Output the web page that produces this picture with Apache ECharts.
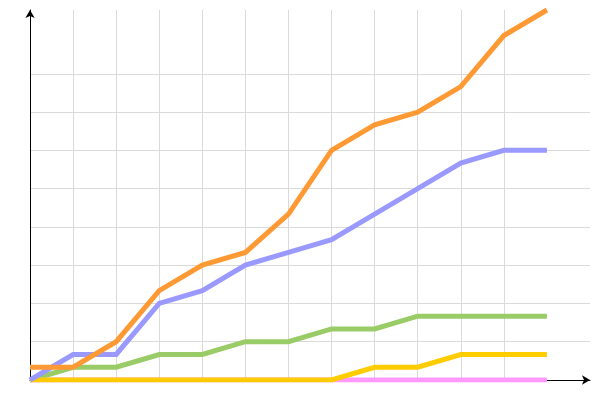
<!DOCTYPE html>
<html>
<head>
<meta charset="utf-8">
<script src="https://cdn.jsdelivr.net/npm/echarts@6/dist/echarts.min.js"></script>
<style>html,body{margin:0;padding:0;background:#fff}#c{width:600px;height:400px}</style>
</head>
<body>
<div id="c"></div>
<script>
var xCategories = ['0','1','2','3','4','5','6','7','8','9','10','11','12','13'];
var yGridCategories = [];
for (var i = 0; i <= 29; i++) yGridCategories.push(String(i));
var orangeValues = [1, 1, 3, 7, 9, 10, 13, 18, 20, 21, 23, 27, 29];
var blueValues   = [0, 2, 2, 6, 7, 9, 10, 11, 13, 15, 17, 18, 18];
var greenValues  = [0, 1, 1, 2, 2, 3, 3, 4, 4, 5, 5, 5, 5];
var yellowValues = [0, 0, 0, 0, 0, 0, 0, 0, 1, 1, 2, 2, 2];
var pinkValues   = [0, 0, 0, 0, 0, 0, 0, 0, 0, 0, 0, 0, 0];

function line(name, data, color, z) {
  return {
    name: name, type: 'line', data: data, xAxisIndex: 0, yAxisIndex: 0,
    showSymbol: false, symbol: 'none', z: z,
    lineStyle: { color: color, width: 5, cap: 'butt', join: 'miter' },
    itemStyle: { color: color }
  };
}

var chart = echarts.init(document.getElementById('c'), null, { renderer: 'canvas' });
chart.setOption({
  animation: false,
  backgroundColor: '#ffffff',
  grid: { left: 30, right: 10, top: 10, bottom: 20, containLabel: false },
  xAxis: [{
    type: 'category', data: xCategories, boundaryGap: false,
    axisLine: { show: true, lineStyle: { color: '#000', width: 1 }, symbol: ['none', 'arrow'], symbolSize: [7, 8], symbolOffset: [0, 0] },
    axisTick: { show: false }, axisLabel: { show: false },
    splitLine: { show: true, interval: function (idx) { return idx >= 1 && idx <= 11; }, lineStyle: { color: '#dadada', width: 1 } }
  }],
  yAxis: [{
    type: 'value', min: 0, max: 29,
    axisLine: { show: true, lineStyle: { color: '#000', width: 1 }, symbol: ['none', 'arrow'], symbolSize: [7, 8] },
    axisTick: { show: false }, axisLabel: { show: false }, splitLine: { show: false }
  }, {
    type: 'category', data: yGridCategories, boundaryGap: false, position: 'left',
    axisLine: { show: false }, axisTick: { show: false }, axisLabel: { show: false },
    splitLine: { show: true, interval: function (idx) { return idx > 0 && idx <= 24 && idx % 3 === 0; }, lineStyle: { color: '#dadada', width: 1 } }
  }],
  series: [
    line('pink', pinkValues, '#ff99ff', 2),
    line('green', greenValues, '#99cc66', 3),
    line('yellow', yellowValues, '#ffcc00', 4),
    line('blue', blueValues, '#9999ff', 5),
    line('orange', orangeValues, '#ff9933', 6)
  ]
});
</script>
</body>
</html>
